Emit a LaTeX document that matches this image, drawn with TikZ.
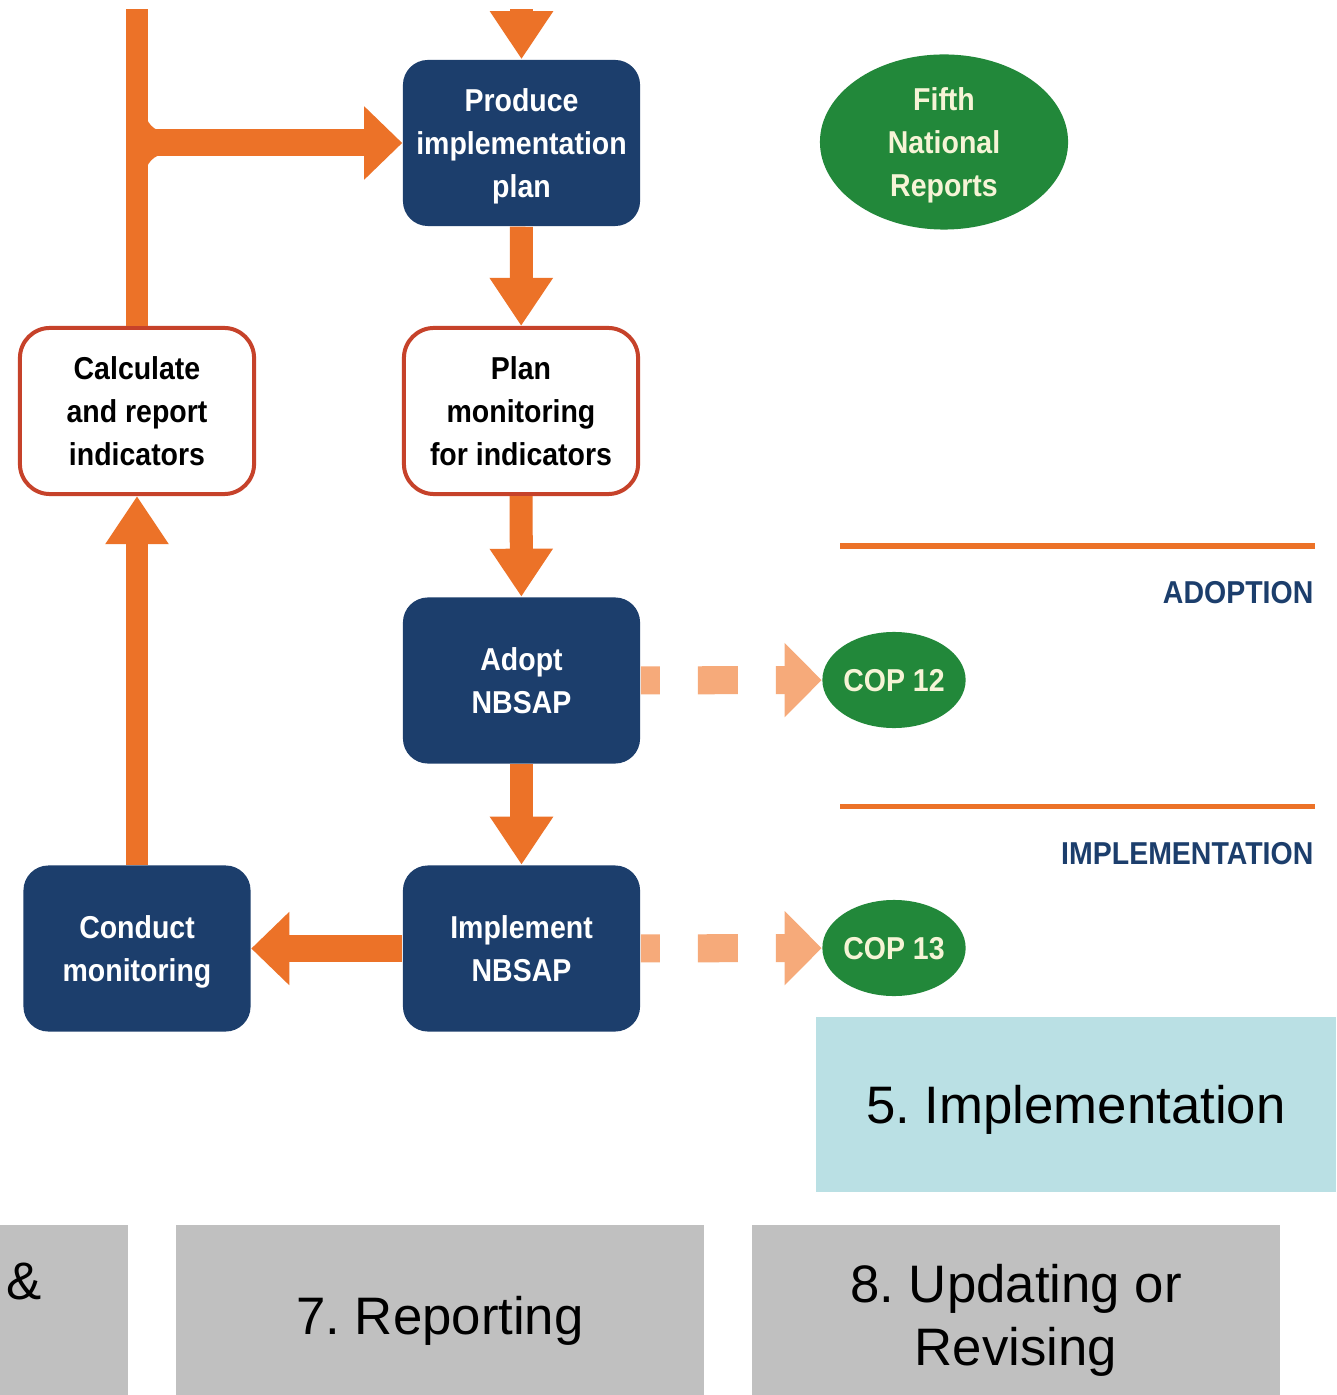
\documentclass[tikz,border=0pt]{standalone}
\usepackage{fontspec}
\setmainfont{Liberation Sans}
\newfontfamily\condfont[FakeStretch=0.9]{Liberation Sans}
\usetikzlibrary{arrows.meta,shapes.geometric}
\frenchspacing
\definecolor{nbsapblue}{RGB}{28,62,108}
\definecolor{floworange}{RGB}{236,114,40}
\definecolor{dashorange}{RGB}{246,170,122}
\definecolor{boxred}{RGB}{198,66,42}
\definecolor{copgreen}{RGB}{34,136,58}
\definecolor{cream}{RGB}{246,244,214}
\definecolor{stageblue}{RGB}{186,224,228}
\definecolor{stagegray}{RGB}{192,192,192}
\tikzset{
  boxfont/.style={font=\condfont\bfseries\fontsize{9}{12.2}\selectfont, text depth=0pt},
  darkbox/.style={boxfont, fill=nbsapblue, text=white, rounded corners=0.25cm,
    minimum width=2.37cm, minimum height=1.66cm, align=center, inner sep=0pt},
  openbox/.style={boxfont, draw=boxred, line width=0.04cm, fill=white, text=black,
    rounded corners=0.3cm, minimum width=2.34cm, minimum height=1.66cm, align=center, inner sep=0pt},
  event/.style={boxfont, ellipse, fill=copgreen, text=cream, inner sep=0pt, align=center},
  phaselabel/.style={boxfont, text=nbsapblue, anchor=east, inner sep=0pt},
  stagefont/.style={font=\fontsize{15}{18}\selectfont},
  stage/.style={stagefont, text depth=0pt, minimum width=5.28cm, minimum height=1.8cm, align=center, inner sep=0pt},
  flow/.style={draw=floworange, line width=0.23cm, -{Triangle[length=0.48cm,width=0.60cm]}},
  flowh/.style={draw=floworange, line width=0.27cm, -{Triangle[length=0.38cm,width=0.71cm]}},
  report/.style={draw=dashorange, line width=0.28cm, dash pattern=on 0.4cm off 0.38cm,
    dash phase=0.21cm, -{Triangle[length=0.37cm,width=0.72cm]}},
}
\begin{document}
\begin{tikzpicture}[x=0.01cm,y=-0.01cm]
	\useasboundingbox (0,0) rectangle (1336,1395);
	\fill[white] (0,0) rectangle (1336,1395);
	% steps of the cycle
	\node[darkbox] (prod) at (521.5,143) {Produce\\implementation\\plan};
	\node[openbox] (plan) at (521,411) {Plan\\monitoring\\for indicators};
	\node[openbox] (calc) at (137,411) {Calculate\\and report\\indicators};
	\node[darkbox] (adopt) at (521.5,680.5) {Adopt\\NBSAP};
	\node[darkbox] (impl) at (521.5,948.5) {Implement\\NBSAP};
	\node[darkbox, minimum width=2.27cm] (cond) at (137,948.5) {Conduct\\monitoring};
	% reports and COPs
	\node[event, minimum width=2.48cm, minimum height=1.75cm] (fifth) at (944,142) {Fifth\\National\\Reports};
	\node[event, minimum width=1.36cm, minimum height=0.96cm] (cop12) at (894,680) {COP 12};
	\node[event, minimum width=1.36cm, minimum height=0.96cm] (cop13) at (894,948) {COP 13};
	% phases
	\draw[floworange, line width=0.05cm] (840,546) -- (1315,546);
	\draw[floworange, line width=0.05cm] (840,806) -- (1315,806);
	\node[phaselabel] (adoption) at (1314,592) {ADOPTION};
	\node[phaselabel] (implementation) at (1314,853) {IMPLEMENTATION};
	% stages
	\node[stage, fill=stageblue, minimum width=5.2cm, minimum height=1.75cm] (stage5) at (1076,1104.5) {5. Implementation};
	\fill[stagegray] (0,1225) rectangle (128,1395);
	\node[stagefont, inner sep=0pt] (amp) at (24,1281) {\&};
	\node[stage, fill=stagegray] (stage7) at (440,1315) {7. Reporting};
	\node[stage, fill=stagegray] (stage8) at (1016,1315) {8. Updating or\\Revising};
	% connectors
	\coordinate (topin) at (521.5,-30);
	\coordinate (topleft) at (137,-30);
	\coordinate (fork) at (137,143);
	\begin{scope}
		\clip (0,10) rectangle (1336,1395);
		\draw[flow] (topin) -- (prod.north);
		\draw[floworange, line width=0.22cm] (calc.north) -- (topleft);
	\end{scope}
	\draw[flowh] (fork) -- (prod.west);
	\fill[floworange] (140,110) -- (145,110) to[out=-90,in=180] (166,132) -- (166,136) -- (140,136) -- cycle;
	\fill[floworange] (140,176) -- (145,176) to[out=90,in=180] (166,154) -- (166,150) -- (140,150) -- cycle;
	\draw[flow] (prod) -- (plan);
	\draw[flow] (plan) -- (adopt);
	\draw[flow] (adopt) -- (impl);
	\draw[flowh] (impl) -- (cond);
	\draw[flow, line width=0.22cm] (cond) -- (calc);
	\draw[report] (adopt) -- (cop12);
	\draw[report] (impl) -- (cop13);
\end{tikzpicture}
\end{document}
